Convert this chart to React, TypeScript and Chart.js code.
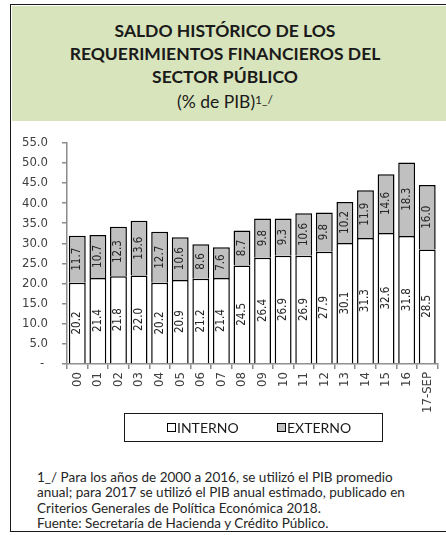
import React, { useEffect, useRef } from "react";
import { Chart, registerables } from "chart.js";

Chart.register(...registerables);

const categories = ["00", "01", "02", "03", "04", "05", "06", "07", "08", "09", "10", "11", "12", "13", "14", "15", "16", "17-SEP"];
const interno = [20.2, 21.4, 21.8, 22.0, 20.2, 20.9, 21.2, 21.4, 24.5, 26.4, 26.9, 26.9, 27.9, 30.1, 31.3, 32.6, 31.8, 28.5];
const externo = [11.7, 10.7, 12.3, 13.6, 12.7, 10.6, 8.6, 7.6, 8.7, 9.8, 9.3, 10.6, 9.8, 10.2, 11.9, 14.6, 18.3, 16.0];
const seriesNames = ["INTERNO", "EXTERNO"];
const titleLines = ["SALDO HISTÓRICO DE LOS", "REQUERIMIENTOS FINANCIEROS DEL", "SECTOR PÚBLICO"];
const footnoteLines = [
  "1_/ Para los años de 2000 a 2016, se utilizó el PIB promedio",
  "anual; para 2017 se utilizó el PIB anual estimado, publicado en",
  "Criterios Generales de Política Económica 2018.",
  "Fuente: Secretaría de Hacienda y Crédito Público.",
];

const AXIS_FONT = '"DejaVu Sans Condensed", "DejaVu Sans", sans-serif';
const TEXT_FONT = 'Lato, "Open Sans", sans-serif';

const barLabels = {
  id: "barLabels",
  afterDatasetsDraw(chart: any) {
    const ctx = chart.ctx;
    ctx.save();
    ctx.font = `11.5px ${AXIS_FONT}`;
    ctx.fillStyle = "#262626";
    ctx.textAlign = "center";
    ctx.textBaseline = "middle";
    chart.data.datasets.forEach((ds: any, di: number) => {
      const meta = chart.getDatasetMeta(di);
      meta.data.forEach((el: any, i: number) => {
        const v = ds.data[i];
        const yc = (el.y + el.base) / 2;
        ctx.save();
        ctx.translate(el.x, yc);
        ctx.rotate(-Math.PI / 2);
        ctx.fillText(v.toFixed(1), 0, 0);
        ctx.restore();
      });
    });
    ctx.restore();
  },
};

export default function App() {
  const ref = useRef<HTMLCanvasElement>(null);
  useEffect(() => {
    const chart = new Chart(ref.current!, {
      type: "bar",
      data: {
        labels: categories,
        datasets: [
          {
            label: seriesNames[0],
            data: interno,
            backgroundColor: "#ffffff",
            borderColor: "#000000",
            borderWidth: 1.5,
          },
          {
            label: seriesNames[1],
            data: externo,
            backgroundColor: "#c0c0c0",
            borderColor: "#000000",
            borderWidth: 1.5,
          },
        ],
      },
      options: {
        animation: false,
        responsive: false,
        maintainAspectRatio: false,
        layout: { padding: { top: 14, right: 6, left: 0, bottom: 0 } },
        datasets: { bar: { barPercentage: 0.82, categoryPercentage: 1 } },
        plugins: { legend: { display: false }, tooltip: { enabled: false }, title: { display: false } },
        scales: {
          x: {
            stacked: true,
            afterFit: (s: any) => { s.height = 57; },
            grid: { display: true, drawOnChartArea: false, drawTicks: true, tickLength: 5, color: "#8c8c8c", lineWidth: 1.5, offset: true },
            border: { display: true, color: "#8c8c8c", width: 1.5 },
            ticks: { minRotation: 90, maxRotation: 90, autoSkip: false, padding: 3, color: "#404040", font: { family: AXIS_FONT, size: 13 } },
          },
          y: {
            stacked: true,
            min: 0,
            max: 55,
            afterFit: (s: any) => { s.width = 57; },
            grid: { display: true, drawOnChartArea: false, drawTicks: true, tickLength: 5, color: "#8c8c8c", lineWidth: 1.5 },
            border: { display: true, color: "#8c8c8c", width: 1.5 },
            ticks: {
              stepSize: 5,
              padding: 14,
              color: "#404040",
              font: { family: AXIS_FONT, size: 13 },
              callback: (v: any) => (Number(v) === 0 ? "- " : Number(v).toFixed(1)),
            },
          },
        },
      },
      plugins: [barLabels],
    });
    return () => chart.destroy();
  }, []);

  return (
    <div style={{ position: "fixed", left: 0, top: 0, width: 446, height: 535, background: "#fff", overflow: "hidden" }}>
      <div style={{ position: "absolute", left: 10, top: 4, width: 460, height: 528, border: "1.5px solid #1a1a1a", boxSizing: "border-box" }} />
      <div style={{ position: "absolute", left: 12, top: 6, width: 440, height: 115, background: "#d8e4bc" }} />
      <div style={{ position: "absolute", left: 0, top: 19, width: 450, textAlign: "center", fontFamily: TEXT_FONT, color: "#1a1a1a", fontSize: 17.5, lineHeight: "23px" }}>
        {titleLines.map((t, i) => (
          <div key={i} style={{ fontWeight: 700 }}>{t}</div>
        ))}
        <div style={{ fontWeight: 400 }}>
          (% de PIB)<span style={{ fontSize: 12, verticalAlign: "4px" }}>1_/</span>
        </div>
      </div>
      <canvas ref={ref} width={436} height={300} style={{ position: "absolute", left: 10, top: 121, width: 436, height: 300 }} />
      <div style={{ position: "absolute", left: 124, top: 413, width: 259, height: 29, border: "1px solid #1a1a1a", boxSizing: "border-box", fontFamily: TEXT_FONT, fontSize: 14, color: "#1a1a1a" }}>
        <div style={{ position: "absolute", left: 42, top: 5, display: "flex", alignItems: "center" }}>
          <span style={{ display: "inline-block", width: 7, height: 7, border: "1px solid #000", background: "#fff", marginRight: 1 }} />
          {seriesNames[0]}
        </div>
        <div style={{ position: "absolute", left: 152, top: 5, display: "flex", alignItems: "center" }}>
          <span style={{ display: "inline-block", width: 7, height: 7, border: "1px solid #000", background: "#c0c0c0", marginRight: 1 }} />
          {seriesNames[1]}
        </div>
      </div>
      <div style={{ position: "absolute", left: 37, top: 470, fontFamily: TEXT_FONT, fontSize: 13.5, lineHeight: "15.3px", color: "#262626", whiteSpace: "nowrap" }}>
        {footnoteLines.map((t, i) => (
          <div key={i}>{t}</div>
        ))}
      </div>
    </div>
  );
}
